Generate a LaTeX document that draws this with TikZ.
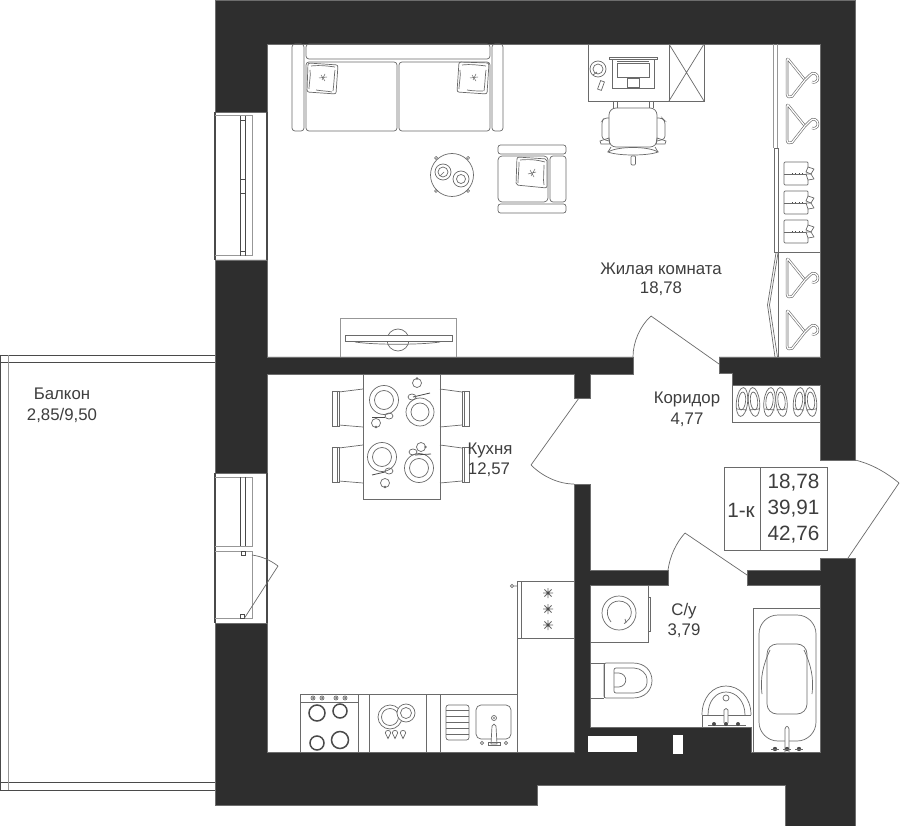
\documentclass[tikz,border=0pt]{standalone}
\usepackage{fontspec}
\setmainfont{Liberation Sans}
\definecolor{wallc}{HTML}{2E2E2E}
\definecolor{linec}{HTML}{6A6A6A}
\definecolor{darkl}{HTML}{4A4A4A}
\definecolor{textc}{HTML}{3E3E3E}
\tikzset{
  wall/.style={fill=wallc,draw=wallc!70!white,line width=.4pt},
  ln/.style={draw=linec,line width=.7pt},
  lnd/.style={draw=darkl,line width=.8pt},
  lnl/.style={draw=linec!70!white,line width=1pt},
  thick burner/.style={draw=darkl,line width=1.5pt},
  lab/.style={text=textc,font=\fontsize{16.8}{18}\selectfont,inner sep=0pt,anchor=center},
  big/.style={text=textc,font=\fontsize{20.7}{22}\selectfont,inner sep=0pt,anchor=center},
  hang/.style={draw=linec,double=white,double distance=1.3pt,line width=.6pt,line join=round},
  hanger/.pic={
    \draw[hang] (2,1) -- (19,22) -- (6,38.5) .. controls (4,40) and (1,39) .. (1,36) -- (1,3) .. controls (1,1) and (1.5,.5) .. (2,1);
    \draw[hang] (19,22) -- (24,17) .. controls (27,13) and (32,16) .. (32,20) .. controls (32,24) and (28,25) .. (26,24);
  },
  shirt/.pic={
    \draw[ln,rounded corners=1pt] (24,5) -- (24,0) -- (0,0) -- (0,23) -- (24,23) -- (24,18);
    \draw[ln] (0,12) -- (22,12);
    \draw[darkl,line width=.8pt,dash pattern=on .8pt off 2.6pt] (8,11.6) -- (20,11.6);
    \draw[ln,line join=round] (24,5) -- (30,7) -- (27,12) -- (22,10) -- cycle;
    \draw[ln,line join=round] (22,12) -- (27,12) -- (30,17) -- (24,18) -- cycle;
  },
  shoes/.pic={
    \draw[ln] (-6,0) ellipse[x radius=5.6,y radius=14.5,rotate=-6];
    \draw[ln] (6,0) ellipse[x radius=5.6,y radius=14.5,rotate=6];
    \draw[ln] (-6,-1) ellipse[x radius=3.6,y radius=9,rotate=-6];
    \draw[ln] (6,-1) ellipse[x radius=3.6,y radius=9,rotate=6];
    \draw[ln] (-11,7) -- (-1,8);
    \draw[ln] (1,8) -- (11,7);
  },
  spark/.pic={
    \draw[draw=linec,line width=.8pt] (-5,0) -- (5,0) (0,-5) -- (0,5) (-3.6,-3.6) -- (3.6,3.6) (-3.6,3.6) -- (3.6,-3.6);
    \fill[darkl] (0,0) circle[radius=1.5];
  },
  tap/.pic={
    \fill[darkl] (0,0) circle[radius=2.2];
    \draw[ln] (-4,0) -- (4,0);
  },
}
\begin{document}
\begin{tikzpicture}[x=1pt,y=-1pt]
\useasboundingbox (0,0) rectangle (900,826);
\fill[white] (0,0) rectangle (900,826);

% walls
\path[wall] (215,0) -- (855,0) -- (855,460) -- (820,460) -- (820,385) -- (732,385) -- (732,373.5) -- (719,373.5) -- (719,357) -- (820,357) -- (820,44) -- (267,44) -- (267,112) -- (215,112) -- cycle;
\path[wall] (215,260) -- (267,260) -- (267,357) -- (633,357) -- (633,374) -- (590,374) -- (590,398) -- (574,398) -- (574,374) -- (267,374) -- (267,473) -- (215,473) -- cycle;
\path[wall] (215,623) -- (267,623) -- (267,752) -- (574,752) -- (574,484) -- (590,484) -- (590,570) -- (668,570) -- (668,585) -- (590,585) -- (590,727) -- (751,727) -- (751,752) -- (820,752) -- (820,585) -- (747,585) -- (747,570) -- (820,570) -- (820,558) -- (855,558) -- (855,826) -- (785,826) -- (785,785) -- (537,785) -- (537,805) -- (215,805) -- cycle;
\fill[white] (588,736) rectangle (637,752);
\fill[white] (673,735) rectangle (683,754);

% window left top
\draw[lnd,line width=1.2pt] (215,112) -- (215,260) (267,112) -- (267,260);
\draw[lnl] (215,116) -- (252,116) -- (252,256) -- (215,256);
\draw[lnd] (240.5,116) -- (240.5,256) (245.5,116) -- (245.5,256);
\draw[lnd] (240.5,120.5) -- (245.5,120.5) (240.5,179) -- (245.5,179) (240.5,193) -- (245.5,193) (240.5,251) -- (245.5,251);

% window left bottom
\draw[lnd,line width=1.2pt] (215,473) -- (215,623) (267,473) -- (267,623);
\draw[lnl] (215,477) -- (252,477) -- (252,546) -- (215,546);
\draw[lnd] (240.5,477) -- (240.5,546) (245.5,477) -- (245.5,546);
\draw[lnl] (215,551) -- (252,551) -- (252,618) -- (215,618);
\draw[lnd] (241.5,551) rectangle (245.5,555);
\draw[lnd] (240.5,614) rectangle (244.5,618);
\draw[ln] (244.5,618) -- (278,566);
\draw[ln] (278,566) .. controls (270,560) and (262,556.5) .. (252,555);

% balcony
\draw[lnd] (0,355) -- (215,355) (0,362) -- (215,362);
\draw[lnd] (0,782) -- (215,782) (0,790) -- (215,790);
\draw[lnd] (.6,355) -- (.6,790);
\draw[lnl,line width=1.2pt] (8.5,355) -- (8.5,790);

% doors
\draw[ln] (651,316) -- (719,364);
\draw[ln] (651,316) .. controls (640,326) and (633,342) .. (633,357);
\draw[ln] (579,398) -- (531,465);
\draw[ln] (531,465) .. controls (542,476) and (558,484) .. (574,484);
\draw[ln] (685,533) -- (747,575);
\draw[ln] (685,533) .. controls (676,543) and (670,556) .. (668,570);
\draw[ln] (899,483) -- (848,558);
\draw[ln] (855,460) .. controls (872,464) and (887,473) .. (899,483);

% sofa
\draw[ln,rounded corners=3pt] (292,44) rectangle (304,131);
\draw[ln,rounded corners=3pt] (492,44) rectangle (503,131);
\draw[ln,rounded corners=3pt] (306,44) rectangle (490,59);
\draw[ln,rounded corners=3pt] (306,62) rectangle (397,131);
\draw[ln,rounded corners=3pt] (399,62) rectangle (490,131);
\draw[ln,rounded corners=2pt] (308,63) -- (338,65) -- (336,94) -- (307,92) -- cycle;
\draw[ln] (311,66) .. controls (320,65) and (328,66) .. (335,67) (335,70) .. controls (334,78) and (334,84) .. (333,91) (316,90) .. controls (322,91) and (327,91) .. (332,92) (310,70) .. controls (311,76) and (309,83) .. (309,89);
\draw[ln,line width=.5pt] (319,78) -- (327,77) (321,75) -- (325,81) (325,74) -- (322,80);
\draw[ln,rounded corners=2pt] (459,62) -- (489,63) -- (487,94) -- (457,92) -- cycle;
\draw[ln] (462,65) .. controls (470,64) and (478,65) .. (486,66) (486,70) .. controls (485,78) and (485,84) .. (484,91) (467,90) .. controls (473,91) and (478,91) .. (483,91) (460,70) .. controls (461,76) and (459,83) .. (459,89);
\draw[ln,line width=.5pt] (470,78) -- (478,77) (472,75) -- (476,81) (476,74) -- (473,80);

% coffee table
\draw[ln] (452,175) circle[radius=21.5];
\draw[ln] (443,172) circle[radius=8];
\draw[ln] (443,172) circle[radius=5];
\draw[ln] (461,179) circle[radius=8];
\draw[ln] (461,179) circle[radius=4.5];
\draw[ln] (440,176) -- (444,172);
\foreach \cx/\cy in {436/158,468/158,436/191,468/191}
  \draw[ln] (\cx,\cy) circle[radius=1.5];

% armchair
\draw[ln,rounded corners=2.5pt] (498,145) rectangle (566,154);
\draw[ln,rounded corners=2.5pt] (498,204) rectangle (566,213);
\draw[ln,rounded corners=4pt] (498,156) rectangle (548,202);
\draw[ln,rounded corners=3pt] (550,156) rectangle (566,202);
\draw[ln,rounded corners=2pt] (517,157) -- (547,159) -- (547,188) -- (516,185) -- cycle;
\draw[ln] (520,160) .. controls (530,159) and (538,160) .. (545,162) (544,165) .. controls (544,172) and (543,180) .. (544,185) (519,162) .. controls (519,170) and (518,178) .. (518,183);
\draw[ln,line width=.5pt] (528,174) -- (536,172) (530,170) -- (534,177) (535,169) -- (531,176);

% desk
\draw[ln] (588,44) rectangle (669,101);
\draw[ln] (669,44) rectangle (704,101);
\draw[ln] (669,44) -- (704,101) (704,44) -- (669,101);
\draw[ln] (609,57) rectangle (657,59.5);
\draw[ln] (612,59.5) rectangle (654,88);
\draw[ln] (617,63) rectangle (649,77);
\draw[ln] (617,61) -- (649,61);
\draw[ln] (627,78.5) rectangle (639,87);
\draw[ln] (598,69) circle[radius=8];
\draw[ln] (598,69) circle[radius=5];
\draw[ln] (593,75) -- (597,72);
\draw[ln,rotate around={-20:(601,85.5)}] (599,81) rectangle (603,90);
% office chair
\draw[ln,rounded corners=7pt] (609,108) rectangle (657,147);
\draw[ln] (613,101) -- (613,108) (617,101) -- (617,108) (649,101) -- (649,108) (653,101) -- (653,108);
\draw[ln,rounded corners=3pt] (609,118) -- (604,118) -- (602,121) -- (602,139) -- (609,141);
\draw[ln,rounded corners=3pt] (657,118) -- (662,118) -- (665,121) -- (665,139) -- (657,141);
\draw[ln] (600,141) -- (609,138) -- (610,144) -- (601,144) -- cycle;
\draw[ln] (666,141) -- (657,138) -- (656,144) -- (665,144) -- cycle;
\draw[ln] (608,152) .. controls (618,146) and (648,146) .. (658,152) .. controls (648,156) and (618,156) .. (608,152) -- cycle;
\draw[ln] (611,147) -- (608,152) (655,147) -- (658,152);
\draw[ln,rounded corners=1pt] (631,156) rectangle (635.5,165);

% wardrobe
\draw[lnl] (773.5,44) -- (773.5,148) (777.5,44) -- (777.5,148);
\draw[ln] (774,148) rectangle (778,252);
\draw[ln] (778,252) -- (820,252);
\draw[ln] (778,252) -- (778,357);
\draw[ln] (776,253) -- (767.5,305) -- (775,357);
\draw[ln] (778,253) -- (769.5,305) -- (777.5,357);
\foreach \hy in {58,104,258,310}
  \pic at (786,\hy) {hanger};
\foreach \sy in {162,191,220}
  \pic at (784,\sy) {shirt};

% shoes
\draw[ln] (732,385) -- (732,422) -- (820,422);
\foreach \sx in {748,775.5,805}
  \pic at (\sx,402) {shoes};

% TV
\draw[lnl] (340,357) -- (340,319) -- (456,319) -- (456,357);
\draw[ln] (398,340) circle[radius=11];
\draw[draw=linec,line width=1pt,fill=white] (345,336) rectangle (452,342);
\draw[ln] (355,342) .. controls (375,345) and (420,345) .. (440,342);

% dining table
\draw[ln] (363,374) rectangle (440,499);
\foreach \cy in {0,56}{
  \begin{scope}[yshift=-\cy pt]
  \draw[ln] (332,391) rectangle (339,426);
  \draw[ln] (337,391) -- (337,426);
  \draw[ln] (339,392) -- (363,389) (339,425) -- (363,427);
  \draw[ln] (462,391) rectangle (469,426);
  \draw[ln] (464,391) -- (464,426);
  \draw[ln] (462,392) -- (440,389) (462,425) -- (440,427);
  \end{scope}
}
\draw[ln] (384,400) circle[radius=14.5]; \draw[ln] (384,400) circle[radius=9.5];
\draw[ln] (420,412) circle[radius=14]; \draw[ln] (420,412) circle[radius=9];
\draw[ln] (382,457) circle[radius=14.5]; \draw[ln] (382,457) circle[radius=9.5];
\draw[ln] (419,468) circle[radius=14.5]; \draw[ln] (419,468) circle[radius=9.5];
\draw[lnd] (372,417) -- (385,417); \draw[ln] (389,416) ellipse[x radius=4,y radius=3]; \draw[ln] (376,423) circle[radius=4.5];
\draw[lnd] (413,397) -- (430,393); \draw[ln] (412,397) ellipse[x radius=4,y radius=3]; \draw[ln] (417,383) circle[radius=4.5];
\draw[lnd] (372,475) -- (385,472); \draw[ln] (389,471) ellipse[x radius=4,y radius=3]; \draw[ln] (385,483) circle[radius=4.5];
\draw[lnd] (415,455) -- (431,454); \draw[ln] (413,452) ellipse[x radius=4,y radius=3]; \draw[ln] (421,447) circle[radius=4.5];
\draw[ln] (376,427) circle[radius=.9] (417,378.5) circle[radius=.9] (385,487) circle[radius=.9] (425.5,447) circle[radius=.9];

% kitchen units
\draw[ln,line width=.9pt] (300,752) -- (300,694) -- (517,694) -- (517,581) -- (574,581);
\draw[ln,line width=.9pt] (300,702) -- (358,702);
\draw[ln,line width=.9pt] (358,694) -- (358,752) (369,694) -- (369,752) (426,694) -- (426,752) (440,694) -- (440,752) (517,694) -- (517,752);
\draw[ln,line width=.9pt] (521,581) -- (521,638) (517,638) -- (574,638);
\draw[ln,line width=.9pt] (300,752) -- (574,752);
\draw[ln] (512,586) circle[radius=1.6] (513.6,586) -- (517,586);
\foreach \ky in {593,609,625} \pic at (548,\ky) {spark};
\foreach \kx in {313,322,336,345}{
  \draw[ln] (\kx,698) circle[radius=2];
  \fill[darkl] (\kx,698) circle[radius=1];
}
\draw[thick burner] (317,713) circle[radius=8];
\draw[thick burner] (340,711) circle[radius=7];
\draw[thick burner] (317,743) circle[radius=7];
\draw[thick burner] (340,740) circle[radius=8.5];
\draw[ln] (390,717) circle[radius=12];
\draw[ln] (390,717) circle[radius=8.5];
\draw[ln,fill=white] (406,713) circle[radius=9];
\draw[ln] (406,713) circle[radius=5.5];
\foreach \dx in {388,395,403}
  \draw[ln] (\dx-2.7,733) .. controls (\dx-2.7,729.5) and (\dx+2.7,729.5) .. (\dx+2.7,733) -- (\dx,738.5) -- cycle;
% sink
\draw[ln,rounded corners=2.5pt] (446,705) rectangle (469,740);
\foreach \ly in {710,716,722,728,734} \draw[ln] (446,\ly) -- (469,\ly);
\draw[ln,rounded corners=5pt] (476,705) rectangle (511,739);
\draw[ln] (494,718) circle[radius=2.5];
\fill[darkl] (494,718) circle[radius=.9];
\draw[ln,fill=white] (491,744) -- (492,726) .. controls (493,723.5) and (495,723.5) .. (496,726) -- (497,744) -- cycle;
\draw[ln] (488,742) rectangle (500,745);
\draw[ln] (482,743) circle[radius=1.6] (506,743) circle[radius=1.6];

% washer
\draw[ln] (590,585) rectangle (648,642);
\draw[ln] (648,597) rectangle (650.5,631);
\draw[ln] (619,613) circle[radius=17];
\draw[ln] (611,622) .. controls (603,612) and (609,601) .. (619,601) .. controls (631,601) and (636,615) .. (626,622);
\draw[ln] (625,619) -- (626,622.5) -- (624,623.5);

% toilet
\draw[ln] (590,663) -- (604,663) (590,698) -- (604,698);
\draw[ln,rounded corners=2pt] (604,663) -- (604,698);
\draw[ln] (606,663) -- (633,663) .. controls (645,663) and (652,671) .. (652,680.5) .. controls (652,690) and (645,698) .. (633,698) -- (606,698) .. controls (605,698) and (604,697) .. (604,696) -- (604,665) .. controls (604,664) and (605,663) .. (606,663) -- cycle;
\draw[ln,rounded corners=2pt] (614,668) -- (632,668) .. controls (641,668) and (647,674) .. (647,681) .. controls (647,688) and (641,693) .. (632,693) -- (614,693) -- cycle;
\draw[ln] (614,673) -- (619,673) .. controls (628,674) and (628,686) .. (619,687) -- (614,687);

% wash basin
\draw[ln] (702,727) -- (702,715) (702,715) -- (751,715);
\draw[ln] (702,715) .. controls (702,697) and (713,686) .. (726,686) .. controls (739,686) and (751,697) .. (751,715);
\draw[ln] (708,715) .. controls (708,701) and (716,692) .. (726,692) .. controls (736,692) and (745,701) .. (745,715);
\draw[ln] (726,698) circle[radius=3];
\draw[ln,fill=white] (724,723) -- (724,710) .. controls (725,708) and (727,708) .. (728,710) -- (728,723);
\draw[ln] (708,725) -- (746,725) ;
\fill[darkl] (714,724) circle[radius=2] (726,724) circle[radius=2] (738,724) circle[radius=2];

% bath
\draw[ln,line width=.9pt] (753,752) -- (753,608) -- (820,608);
\draw[ln] (753,752) -- (820,752);
\draw[ln,rounded corners=19pt] (759,615) rectangle (816,741);
\draw[ln,rounded corners=10pt] (767,644) rectangle (807,714);
\draw[ln] (770,650) .. controls (763,665) and (760,678) .. (762,694);
\draw[ln] (804,650) .. controls (811,665) and (814,678) .. (812,694);
\draw[ln,fill=white] (785,752) -- (785,729) .. controls (786,725.5) and (788,725.5) .. (789,729) -- (789,752);
\foreach \tx in {775,787,799}\pic at (\tx,749) {tap};

% summary table
\draw[ln] (724,467) rectangle (827,550);
\draw[ln] (760,467) -- (760,550);
\node[big] (t1k) at (741,510) {1-к};
\node[big] (t1) at (793.5,483) {18,78};
\node[big] (t2) at (793.5,509) {39,91};
\node[big] (t3) at (793.5,534.5) {42,76};

% labels
\node[lab] (l1a) at (661,268.5) {Жилая комната};
\node[lab] (l1b) at (661,288.5) {18,78};
\node[lab] (l2a) at (62,394) {Балкон};
\node[lab] (l2b) at (62,415) {2,85/9,50};
\node[lab] (l3a) at (687,399) {Коридор};
\node[lab] (l3b) at (687,420) {4,77};
\node[lab] (l4a) at (490,450) {Кухня};
\node[lab] (l4b) at (489,470) {12,57};
\node[lab] (l5a) at (684,611) {С/у};
\node[lab] (l5b) at (684,631) {3,79};
\end{tikzpicture}
\end{document}
